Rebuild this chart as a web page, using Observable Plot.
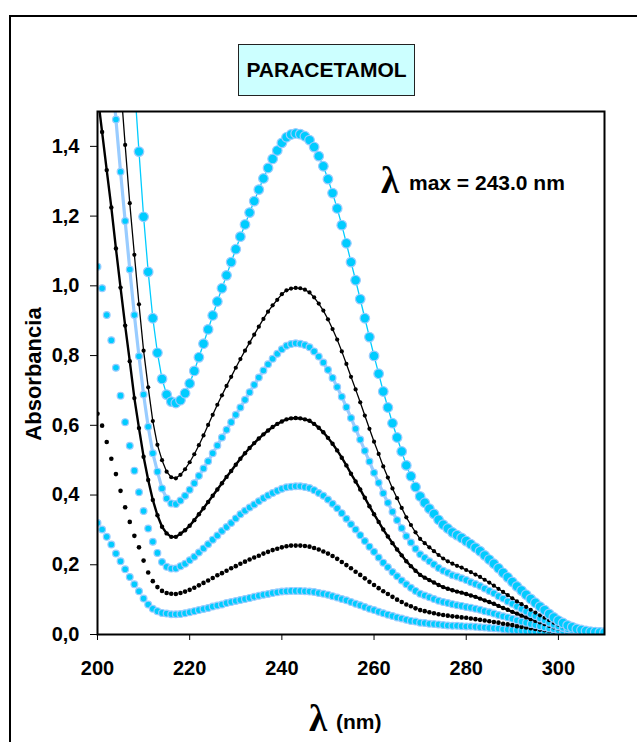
<!DOCTYPE html>
<html><head><meta charset="utf-8">
<script src="https://cdn.jsdelivr.net/npm/d3@7"></script>
<script src="https://cdn.jsdelivr.net/npm/@observablehq/plot@0.6"></script>
<style>
body{margin:0;background:#fff;}
#wrap{position:relative;width:637px;height:742px;overflow:hidden;font-family:"Liberation Sans",Arial,sans-serif;font-weight:bold;}
#outer{position:absolute;left:9px;top:15px;width:800px;height:900px;border:2.5px solid #000;box-sizing:border-box;}
#title{position:absolute;left:238px;top:44px;width:177px;height:52px;background:#CCFFFF;border:1px solid #222;box-sizing:border-box;display:flex;align-items:center;justify-content:center;font-size:21px;color:#000;}
#chart{position:absolute;left:0;top:0;}
#ann{position:absolute;left:0;top:0;pointer-events:none;}
</style>
</head><body>
<div id="wrap">
  <div id="outer"></div>
  <div id="title">PARACETAMOL</div>
  <div id="chart"></div>
  <svg id="ann" width="637" height="742">
    <text x="381" y="193" font-family="'Liberation Serif','DejaVu Serif',serif" font-weight="bold" font-size="37">λ</text>
    <text x="409" y="190" font-family="'Liberation Sans',Arial,sans-serif" font-weight="bold" font-size="21">max = 243.0 nm</text>
    <text x="309" y="731" font-family="'Liberation Serif','DejaVu Serif',serif" font-weight="bold" font-size="37">λ</text>
    <text x="336" y="729" font-family="'Liberation Sans',Arial,sans-serif" font-weight="bold" font-size="21">(nm)</text>
    <text transform="translate(41,374) rotate(-90)" text-anchor="middle" font-family="'Liberation Sans',Arial,sans-serif" font-weight="bold" font-size="22">Absorbancia</text>
  </svg>
</div>
<script>
// Wavelengths (nm)
const wavelengths = [200,201,202,203,204,205,206,207,208,209,210,211,212,213,214,215,216,217,218,219,
220,221,222,223,224,225,226,227,228,229,230,231,232,233,234,235,236,237,238,239,
240,241,242,243,244,245,246,247,248,249,250,251,252,253,254,255,256,257,258,259,
260,261,262,263,264,265,266,267,268,269,270,271,272,273,274,275,276,277,278,279,
280,281,282,283,284,285,286,287,288,289,290,291,292,293,294,295,296,297,298,299,
300,301,302,303,304,305,306,307,308,309,310];

const xTicks = [200,220,240,260,280,300];
const yTicks = [0,0.2,0.4,0.6,0.8,1.0,1.2,1.4];

// Absorbance series (highest to lowest concentration)
const abs1 = [3.0,2.85,2.7,2.55,2.38,2.18,1.98,1.78,1.58,1.385,1.198,1.040,0.907,0.808,0.733,0.688,0.668,0.664,
.672,.692,.720,.756,.795,.834,.875,.915,.955,.993,
1.030,1.068,1.105,1.141,1.176,1.210,1.243,1.276,1.308,1.338,
1.364,1.388,1.410,1.426,1.434,1.437,1.435,1.429,1.418,1.398,
1.372,1.343,1.306,1.266,1.222,1.174,1.122,1.068,1.016,.962,
.907,.853,.799,.748,.697,.651,.606,.565,.525,.485,
.454,.423,.396,.378,.361,.346,.329,.315,.304,.293,
.285,.277,.268,.259,.249,.239,.227,.215,.203,.190,
.177,.164,.151,.138,.126,.114,.102,.091,.080,.070,
.059,.049,.040,.033,.026,.021,.016,.013,.010,.008,
.007,.006,.006];

const abs2 = [2.4,2.25,2.1,1.94,1.76,1.58,1.404,1.237,1.089,0.947,0.814,0.709,0.612,0.544,0.500,0.467,0.451,0.448,
.458,.474,.494,.517,.543,.571,.601,.630,.659,.686,
.713,.739,.765,.790,.814,.837,.860,.883,.905,.926,
.944,.960,.976,.987,.992,.994,.993,.989,.981,.967,
.949,.929,.904,.876,.846,.812,.776,.739,.703,.666,
.628,.590,.553,.518,.482,.450,.419,.391,.363,.336,
.314,.293,.274,.262,.250,.239,.228,.218,.210,.203,
.197,.192,.185,.179,.172,.165,.157,.149,.140,.131,
.122,.113,.104,.095,.087,.079,.071,.063,.055,.048,
.041,.034,.028,.023,.018,.015,.011,.009,.007,.006,
.005,.004,.004];

const abs3 = [2.08,1.93,1.78,1.63,1.477,1.327,1.186,1.047,0.916,0.798,0.688,0.596,0.520,0.467,0.419,0.390,0.376,0.374,
.384,.398,.415,.434,.455,.476,.497,.520,.542,.565,
.587,.609,.630,.651,.673,.695,.716,.737,.757,.775,
.791,.805,.818,.828,.833,.835,.834,.830,.824,.812,
.797,.780,.759,.736,.710,.682,.652,.621,.590,.559,
.527,.496,.464,.435,.405,.378,.352,.328,.305,.282,
.264,.246,.230,.220,.210,.201,.191,.183,.177,.170,
.166,.161,.156,.150,.145,.139,.132,.125,.118,.110,
.103,.095,.088,.080,.073,.066,.059,.053,.046,.041,
.034,.028,.023,.019,.015,.012,.009,.008,.006,.005,
.004,.004,.004];

const abs4 = [1.55,1.441,1.332,1.225,1.107,0.995,0.886,0.784,0.678,0.592,0.510,0.443,0.386,0.342,0.309,0.290,0.280,0.280,
.289,.299,.312,.328,.345,.362,.380,.398,.416,.434,
.452,.469,.487,.504,.520,.535,.549,.562,.574,.585,
.595,.604,.611,.617,.620,.621,.620,.617,.613,.604,
.593,.580,.564,.547,.528,.507,.485,.461,.439,.416,
.392,.368,.345,.323,.301,.281,.262,.244,.227,.210,
.196,.183,.171,.163,.156,.149,.142,.136,.131,.127,
.123,.120,.116,.112,.108,.103,.098,.093,.088,.082,
.076,.071,.065,.060,.054,.049,.044,.039,.035,.030,
.025,.021,.017,.014,.011,.009,.007,.006,.005,.004,
.004,.003,.003];

const abs5 = [1.055,0.993,0.916,0.844,0.765,0.685,0.609,0.541,0.470,0.408,0.354,0.304,0.266,0.234,0.208,0.194,0.189,0.189,
.196,.203,.213,.223,.235,.247,.259,.272,.284,.297,
.308,.320,.333,.345,.355,.364,.373,.382,.391,.399,
.406,.412,.418,.422,.424,.425,.425,.423,.420,.414,
.406,.398,.387,.375,.362,.348,.332,.316,.301,.285,
.268,.252,.237,.221,.206,.193,.179,.167,.155,.144,
.134,.125,.117,.112,.107,.102,.097,.093,.090,.087,
.084,.082,.079,.077,.074,.071,.067,.064,.060,.056,
.052,.049,.045,.041,.037,.034,.030,.027,.024,.021,
.017,.015,.012,.010,.008,.006,.005,.004,.004,.003,
.003,.003,.003];

const abs6 = [0.633,0.599,0.552,0.504,0.460,0.412,0.365,0.323,0.283,0.250,0.212,0.178,0.153,0.136,0.125,0.119,0.117,0.116,
.119,.123,.128,.134,.141,.148,.155,.162,.170,.176,
.183,.190,.196,.203,.209,.215,.221,.226,.232,.237,
.242,.246,.250,.253,.255,.255,.255,.254,.252,.248,
.244,.238,.232,.225,.217,.208,.199,.190,.180,.171,
.161,.151,.142,.133,.124,.116,.108,.100,.093,.086,
.081,.075,.070,.067,.064,.061,.058,.056,.054,.052,
.051,.049,.048,.046,.044,.042,.040,.038,.036,.034,
.031,.029,.027,.024,.022,.020,.018,.016,.014,.012,
.010,.009,.007,.006,.005,.004,.004,.003,.003,.003,
.003,.003,.003];

const abs7 = [0.320,0.301,0.280,0.258,0.232,0.210,0.187,0.165,0.144,0.124,0.103,0.086,0.074,0.067,0.062,0.060,0.058,0.058,
.059,.061,.064,.067,.070,.073,.076,.080,.083,.086,
.090,.093,.096,.099,.102,.105,.108,.111,.114,.116,
.119,.121,.123,.124,.125,.125,.125,.124,.123,.122,
.119,.117,.114,.110,.106,.102,.098,.093,.088,.084,
.079,.074,.070,.065,.061,.057,.053,.049,.046,.042,
.039,.037,.034,.033,.031,.030,.029,.027,.026,.025,
.025,.024,.023,.023,.022,.021,.020,.019,.018,.017,
.015,.014,.013,.012,.011,.010,.009,.008,.007,.006,
.005,.004,.004,.003,.003,.003,.003,.003,.003,.003,
.003,.003,.003];

const rowsOf = (arr) => wavelengths.map((w, i) => ({wl: w, A: arr[i]}));
const s1 = rowsOf(abs1), s2 = rowsOf(abs2), s3 = rowsOf(abs3), s4 = rowsOf(abs4),
      s5 = rowsOf(abs5), s6 = rowsOf(abs6), s7 = rowsOf(abs7);

const CYAN = "#00CCFF", HALO = "#99CCFF";
const xy = {x: "wl", y: "A", clip: true};

const chart = Plot.plot({
  width: 637, height: 742,
  marginLeft: 97, marginRight: 33, marginTop: 111, marginBottom: 108,
  style: {fontFamily: "'Liberation Sans', Arial, sans-serif", fontSize: "20px", fontWeight: "bold", color: "#000", background: "transparent", overflow: "visible"},
  x: {domain: [200, 310], ticks: xTicks, tickSize: 6, tickPadding: 20, label: null, tickFormat: d => String(d)},
  y: {domain: [0, 1.5], ticks: yTicks, tickSize: 7, tickPadding: 11, label: null, tickFormat: d => d.toFixed(1).replace(".", ",")},
  marks: [
    Plot.line(s4, {...xy, stroke: "#000", strokeWidth: 2.4}),
    Plot.line(s3, {...xy, stroke: HALO, strokeWidth: 3.2}),
    Plot.line(s2, {...xy, stroke: "#000", strokeWidth: 1.3}),
    Plot.line(s1, {...xy, stroke: CYAN, strokeWidth: 1.3}),
    Plot.dot(s7, {...xy, r: 3.4, fill: CYAN, stroke: HALO, strokeWidth: 1.2}),
    Plot.dot(s6, {...xy, r: 2.3, fill: "#000"}),
    Plot.dot(s5, {...xy, r: 3.4, fill: CYAN, stroke: HALO, strokeWidth: 1.2}),
    Plot.dot(s4, {...xy, r: 2.2, fill: "#000"}),
    Plot.dot(s3, {...xy, r: 3.4, fill: CYAN, stroke: HALO, strokeWidth: 1.2}),
    Plot.dot(s2, {...xy, r: 2.1, fill: "#000"}),
    Plot.dot(s1, {...xy, r: 4.8, fill: CYAN, stroke: HALO, strokeWidth: 1.2}),
    Plot.frame({stroke: "#000", strokeWidth: 2})
  ]
});
document.getElementById("chart").appendChild(chart);
</script>
</body></html>
